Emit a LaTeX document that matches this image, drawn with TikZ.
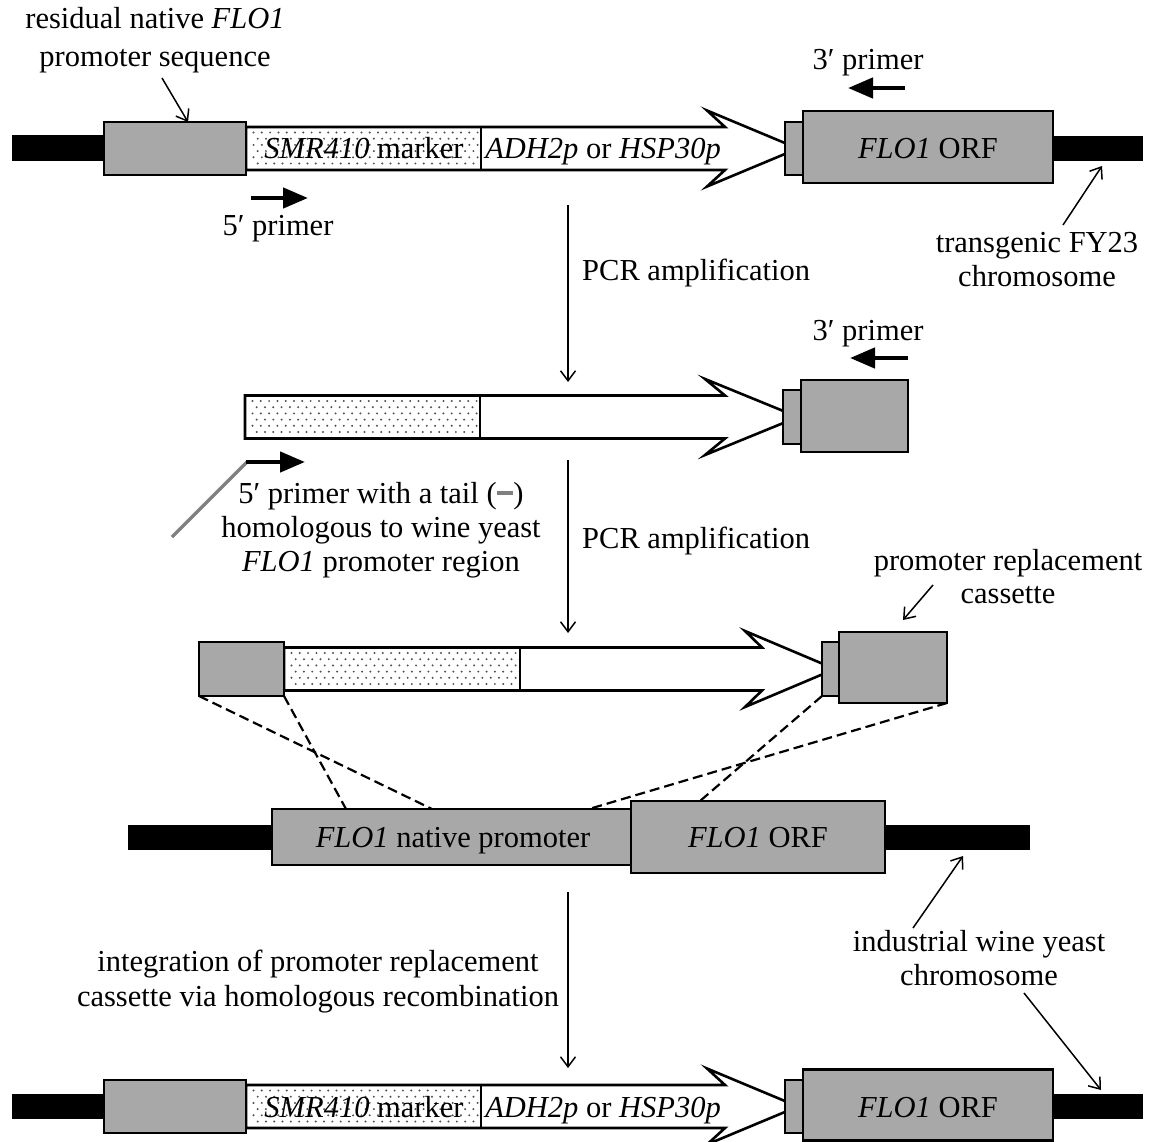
\documentclass[tikz,border=0pt]{standalone}
\usepackage{fontspec}
\setmainfont{Liberation Serif}
\usetikzlibrary{arrows.meta,calc}

\definecolor{boxgray}{HTML}{A8A8A8}
\definecolor{tailgray}{HTML}{808080}
\definecolor{dotgray}{HTML}{505050}

\tikzset{
  gbox/.style={draw, fill=boxgray, line width=2.6pt, inner sep=0pt, outer sep=0pt},
  outline/.style={line width=2.6pt, line join=miter},
  lbl/.style={font=\fontsize{30.5}{34}\selectfont, inner sep=0pt, anchor=base},
  thinarrow/.style={line width=1.5pt, -{Straight Barb[length=10pt,width=15pt,line width=1.5pt]}},
  primer/.style={line width=4.5pt, -{Triangle[length=25pt,width=20pt]}},
  homol/.style={line width=2.2pt, dash pattern=on 10pt off 5pt},
}

% stippled fill of the marker part of a cassette
\newcommand\stipple[4]{%
  \begin{scope}
    \clip (#1,#2) rectangle (#3,#4);
    \foreach \j in {0,...,5} {
      \foreach \i in {0,...,30} {
        \pgfmathsetmacro\dx{#1+7.5+8.3*\i+mod(\j,2)*4.15}
        \pgfmathsetmacro\dy{#2+5.5+6.2*\j}
        \fill[dotgray] (\dx,\dy) circle (1.1pt);
      }
    }
  \end{scope}}

% promoter cassette arrow: left end, marker/promoter split, shaft end, centre y, barb x
\newcommand\promarrow[5]{%
  \draw[outline, fill=white] (#1,#4-21.5) -- (#3,#4-21.5) -- (#5,#4-38) -- (#3+73,#4)
     -- (#5,#4+38) -- (#3,#4+21.5) -- (#1,#4+21.5) -- cycle;
  \stipple{#1}{#4-21.5}{#2}{#4+21.5}
  \draw[outline] (#2,#4-21.5) -- (#2,#4+21.5);}

\begin{document}
\begin{tikzpicture}[x=1pt,y=-1pt]
\useasboundingbox (0,0) rectangle (1154,1142);

% ---------- transgenic FY23 locus ----------
\fill (12,135) rectangle (104,161);
\fill (1053,136) rectangle (1143,161);
\promarrow{246}{481}{725}{148.5}{707}
\node[gbox, minimum width=142pt, minimum height=53pt] (g1) at (175,148.5) {};
\node[gbox, minimum width=18pt, minimum height=53pt] (s1) at (794,148.5) {};
\node[gbox, minimum width=250pt, minimum height=72pt] (o1) at (928,147) {};
\node[lbl] (m1) at (364,159) {\textit{SMR410} marker};
\node[lbl] (p1) at (603,159) {\textit{ADH2p} or \textit{HSP30p}};
\node[lbl] (f1) at (928,159) {\textit{FLO1} ORF};

\node[lbl] (res1) at (155,29) {residual native \textit{FLO1}};
\node[lbl] (res2) at (155,67) {promoter sequence};
\coordinate (resA) at (162,78);
\draw[thinarrow] (resA) -- (g1.north -| 188,0);

\node[lbl] (tp1) at (868,70) {3′ primer};
\coordinate (tp1a) at (905,88);
\coordinate (tp1b) at (848,88);
\draw[primer] (tp1a) -- (tp1b);

\node[lbl] (fp1) at (278,236) {5′ primer};
\coordinate (fp1a) at (251,198);
\coordinate (fp1b) at (308,198);
\draw[primer] (fp1a) -- (fp1b);

\node[lbl] (tg1) at (1037,252) {transgenic FY23};
\node[lbl] (tg2) at (1037,286) {chromosome};
\coordinate (tgA) at (1063,225);
\coordinate (tgB) at (1102,166);
\draw[thinarrow] (tgA) -- (tgB);

% ---------- first PCR ----------
\coordinate (v1a) at (568,205);
\coordinate (v1b) at (568,382);
\draw[thinarrow] (v1a) -- (v1b);
\node[lbl, anchor=base west] (pcr1) at (582,280) {PCR amplification};

\promarrow{245}{480}{725}{417}{705}
\node[gbox, minimum width=18pt, minimum height=54pt] (s2) at (792,417) {};
\node[gbox, minimum width=107pt, minimum height=72pt] (b2) at (854.5,416) {};

\node[lbl] (tp2) at (868,340) {3′ primer};
\coordinate (tp2a) at (908,358);
\coordinate (tp2b) at (850,358);
\draw[primer] (tp2a) -- (tp2b);

\coordinate (tailA) at (172,537);
\coordinate (tailB) at (247,462);
\coordinate (tailC) at (305,462);
\draw[tailgray, line width=3.5pt] (tailA) -- (tailB);
\draw[primer] ($(tailB)+(-1.5,0)$) -- (tailC);
\node[lbl] (tl1) at (381,503) {5′ primer with a tail (\textcolor{tailgray}{\rule[0.26em]{0.55em}{0.12em}})};
\node[lbl] (tl2) at (381,537) {homologous to wine yeast};
\node[lbl] (tl3) at (381,571) {\textit{FLO1} promoter region};

% ---------- second PCR ----------
\coordinate (v2a) at (568,460);
\coordinate (v2b) at (568,633);
\draw[thinarrow] (v2a) -- (v2b);
\node[lbl, anchor=base west] (pcr2) at (582,548) {PCR amplification};

\promarrow{284}{520}{762}{669}{745}
\node[gbox, minimum width=85pt, minimum height=54pt] (g3) at (241.5,669) {};
\node[gbox, minimum width=17pt, minimum height=54pt] (s3) at (830.5,669) {};
\node[gbox, minimum width=108pt, minimum height=71pt] (b3) at (893,667.5) {};

\node[lbl] (rc1) at (1008,570) {promoter replacement};
\node[lbl] (rc2) at (1008,603) {cassette};
\coordinate (rcA) at (933,585);
\coordinate (rcB) at (903,620);
\draw[thinarrow] (rcA) -- (rcB);

% ---------- wine yeast locus ----------
\fill (128,825) rectangle (1030,850);
\node[gbox, minimum width=359pt, minimum height=56pt] (np) at (451.5,837) {};
\node[gbox, minimum width=254pt, minimum height=72pt] (o4) at (758,837) {};
\node[lbl] (npt) at (453,847) {\textit{FLO1} native promoter};
\node[lbl] (o4t) at (758,847) {\textit{FLO1} ORF};

\coordinate (h1) at (432,809);
\coordinate (h2) at (346,809);
\coordinate (h3) at (700,801);
\coordinate (h4) at (589,809);
\draw[homol] (g3.south west) -- (h1);
\draw[homol] (g3.south east) -- (h2);
\draw[homol] (s3.south west) -- (h3);
\draw[homol] (b3.south east) -- (h4);

\node[lbl] (iw1) at (979,951) {industrial wine yeast};
\node[lbl] (iw2) at (979,985) {chromosome};
\coordinate (iwA) at (913,928);
\coordinate (iwB) at (963,856);
\draw[thinarrow] (iwA) -- (iwB);
\coordinate (iwC) at (1024,993);
\coordinate (iwD) at (1101,1090);
\draw[thinarrow] (iwC) -- (iwD);

% ---------- integration ----------
\coordinate (v3a) at (568,892);
\coordinate (v3b) at (568,1068);
\draw[thinarrow] (v3a) -- (v3b);
\node[lbl] (in1) at (318,971) {integration of promoter replacement};
\node[lbl] (in2) at (318,1006) {cassette via homologous recombination};

% ---------- resulting locus ----------
\fill (12,1094) rectangle (104,1119);
\fill (1053,1094) rectangle (1143,1119);
\promarrow{246}{481}{725}{1106.5}{707}
\node[gbox, minimum width=142pt, minimum height=53pt] (g5) at (175,1106.5) {};
\node[gbox, minimum width=18pt, minimum height=53pt] (s5) at (794,1106.5) {};
\node[gbox, minimum width=250pt, minimum height=71pt] (o5) at (928,1105) {};
\node[lbl] (m5) at (364,1117) {\textit{SMR410} marker};
\node[lbl] (p5) at (603,1117) {\textit{ADH2p} or \textit{HSP30p}};
\node[lbl] (f5) at (928,1117) {\textit{FLO1} ORF};
\end{tikzpicture}
\end{document}
